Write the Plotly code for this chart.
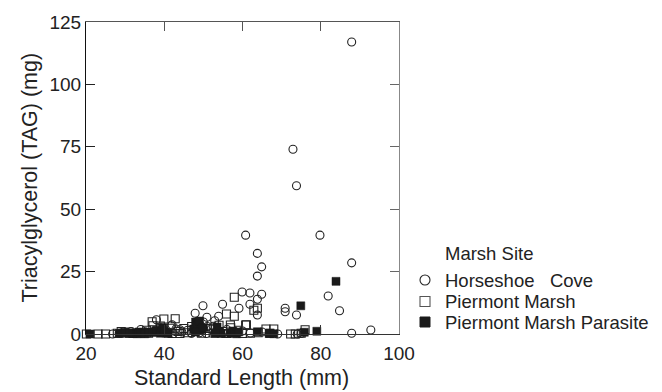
import plotly.graph_objects as go

# Horseshoe Cove (open circles)
hc_x = [87.9, 72.9, 73.8, 60.8, 79.8, 63.8, 64.9, 63.8, 87.9, 81.9, 84.8, 92.8, 87.9,
        59.9, 61.9, 64.9, 61.9, 63.8, 63.8, 59.1, 54.9, 49.9, 47.9, 53.9, 50.9, 52.9,
        70.9, 70.9, 73.8, 38.0, 42.0,
        26.8, 28.5, 29.5, 30.5, 31.5, 33.0, 34.0, 35.0, 36.0, 37.5, 39.0, 40.0, 41.0,
        43.0, 44.0, 44.5, 41.8, 46.0, 46.9, 47.0, 48.5, 49.0, 49.1, 50.0, 50.8, 51.0,
        52.0, 52.5, 53.0, 55.0, 56.0, 57.0, 58.5, 60.0, 62.0, 65.0, 69.0, 74.0, 75.0]
hc_y = [117.0, 74.0, 59.4, 39.6, 39.6, 32.3, 26.9, 23.2, 28.5, 15.2, 9.3, 1.6, 0.3,
        16.8, 16.4, 15.9, 11.9, 13.9, 7.6, 10.3, 11.9, 11.3, 8.3, 7.1, 6.7, 5.3,
        10.3, 8.9, 7.6, 5.7, 3.7,
        0.0, 0.3, 0.8, 0.5, 1.0, 0.6, 1.8, 0.9, 0.4, 1.2, 2.5, 1.5, 0.6,
        2.0, 1.7, 0.8, 3.3, 1.5, 0.4, 0.3, 2.8, 0.5, 3.7, 4.8, 0.2, 3.0,
        2.0, 3.1, 0.6, 0.2, 1.8, 0.5, 0.3, 1.2, 0.4, 0.8, 0.0, 0.0, 0.2]

# Piermont Marsh (open squares)
pm_x = [57.9, 63.8, 62.9, 55.9, 57.9, 42.8, 39.9, 36.9, 37.1, 60.8, 56.9, 61.0,
        20.1, 23.1, 25.0, 28.0, 29.0, 30.0, 31.0, 32.0, 34.0, 35.5, 36.0, 38.0, 39.0,
        40.5, 41.5, 42.0, 43.5, 44.0, 45.0, 46.0, 47.0, 48.5, 49.5, 51.0, 52.5, 54.0,
        55.0, 56.0, 57.0, 58.0, 59.0, 60.0, 62.0, 64.0, 66.0, 67.0, 68.0, 72.3, 73.5,
        76.0, 75.0]
pm_y = [14.7, 10.3, 9.5, 8.0, 7.1, 6.1, 6.0, 4.9, 3.3, 3.6, 3.6, 3.7,
        0.0, 0.0, 0.0, 0.3, 1.0, 0.4, 0.8, 0.2, 0.5, 1.5, 0.3, 1.0, 3.2,
        0.5, 2.3, 0.2, 1.0, 0.2, 2.2, 0.5, 3.0, 1.8, 0.3, 2.2, 0.4, 3.5,
        1.0, 0.2, 2.5, 0.6, 1.5, 0.2, 0.3, 0.5, 2.0, 0.3, 2.0, 0.0, 0.0,
        1.7, 0.3]

# Piermont Marsh Parasite (filled squares)
pp_x = [83.9, 74.9, 79.0, 75.8, 63.8, 66.8, 21.0, 28.5, 30.0, 31.0, 32.0, 33.0, 33.5,
        34.0, 34.5, 35.0, 36.0, 37.0, 38.0, 39.0, 39.5, 40.0, 41.0, 47.5, 48.0, 48.5,
        49.0, 49.5, 48.0, 50.0, 53.5, 54.0, 54.5, 57.0, 57.5, 58.0, 58.5, 59.0, 53.0,
        67.0, 68.0]
pp_y = [21.1, 11.3, 1.1, 0.7, 0.9, 0.2, 0.0, 0.2, 0.5, 0.2, 0.3, 0.1, 0.8,
        0.2, 0.5, 0.1, 0.8, 0.6, 1.5, 0.3, 2.5, 1.0, 0.2, 2.0, 4.8, 3.5,
        5.2, 1.8, 0.8, 2.5, 2.8, 1.0, 0.2, 0.3, 1.2, 0.5, 0.1, 0.8, 0.2,
        0.3, 0.1]

x_ticks = [20, 40, 60, 80, 100]
y_ticks = [0, 25, 50, 75, 100, 125]
series_names = ["Horseshoe   Cove", "Piermont Marsh", "Piermont Marsh Parasite"]
legend_title = "Marsh Site"

FONT = "Liberation Sans, Arial, Helvetica, sans-serif"
INK = "#222"

W, H = 662, 392
ML, MR, MT, MB = 86, 263, 22, 58
PW, PH = W - ML - MR, H - MT - MB


def px2paper(px, py):
    return (px - ML) / PW, 1 - (py - MT) / PH


fig = go.Figure()
fig.add_trace(go.Scatter(x=hc_x, y=hc_y, mode="markers", name=series_names[0],
                         marker=dict(symbol="circle-open", size=8, color=INK,
                                     line=dict(width=1.1, color=INK)),
                         cliponaxis=False, showlegend=False))
fig.add_trace(go.Scatter(x=pm_x, y=pm_y, mode="markers", name=series_names[1],
                         marker=dict(symbol="square-open", size=8, color=INK,
                                     line=dict(width=1.1, color=INK)),
                         cliponaxis=False, showlegend=False))
fig.add_trace(go.Scatter(x=pp_x, y=pp_y, mode="markers", name=series_names[2],
                         marker=dict(symbol="square", size=8, color="#1a1a1a",
                                     line=dict(width=0.5, color="#1a1a1a")),
                         cliponaxis=False, showlegend=False))
# helper trace to activate top/right axes
fig.add_trace(go.Scatter(x=[None], y=[None], xaxis="x2", yaxis="y2",
                         showlegend=False, hoverinfo="skip", mode="markers"))

axis_common = dict(showgrid=False, zeroline=False, showline=True, ticks="inside",
                   ticklen=9, tickwidth=1)

annotations = []
sx, sy = px2paper(241.7, 378)
annotations.append(dict(text="Standard Length (mm)", x=sx, y=sy, xref="paper", yref="paper",
                        showarrow=False, xanchor="center", yanchor="middle",
                        font=dict(size=21.5, color=INK)))
sx, sy = px2paper(29, 177.5)
annotations.append(dict(text="Triacylglycerol (TAG) (mg)", x=sx, y=sy, xref="paper",
                        yref="paper", showarrow=False, xanchor="center", yanchor="middle",
                        textangle=-90, font=dict(size=21.5, color=INK)))

# manual legend (title + three entries)
leg_text_x = 445
leg_sym_x = 425
leg_rows = [280, 301.5, 322]
sx, sy = px2paper(leg_text_x, 253)
annotations.append(dict(text=legend_title, x=sx, y=sy, xref="paper", yref="paper",
                        showarrow=False, xanchor="left", yanchor="middle",
                        xshift=-2, font=dict(size=18.5, color=INK)))
shapes = []
half = 5
for i, (name, ry) in enumerate(zip(series_names, leg_rows)):
    sx, sy = px2paper(leg_text_x, ry)
    annotations.append(dict(text=name, x=sx, y=sy, xref="paper", yref="paper",
                            showarrow=False, xanchor="left", yanchor="middle",
                            xshift=-2, font=dict(size=18.5, color=INK)))
    x0, y0 = px2paper(leg_sym_x - half, ry + half)
    x1, y1 = px2paper(leg_sym_x + half, ry - half)
    if i == 0:
        shapes.append(dict(type="circle", xref="paper", yref="paper", x0=x0, x1=x1,
                           y0=y0, y1=y1, line=dict(color=INK, width=1.1)))
    elif i == 1:
        shapes.append(dict(type="rect", xref="paper", yref="paper", x0=x0, x1=x1,
                           y0=y0, y1=y1, line=dict(color="#555", width=1.1)))
    else:
        shapes.append(dict(type="rect", xref="paper", yref="paper", x0=x0, x1=x1,
                           y0=y0, y1=y1, line=dict(color="#1a1a1a", width=1),
                           fillcolor="#1a1a1a"))

fig.update_layout(
    width=W, height=H,
    margin=dict(l=ML, r=MR, t=MT, b=MB),
    paper_bgcolor="white", plot_bgcolor="white",
    font=dict(family=FONT, color=INK, size=19),
    xaxis=dict(range=[20, 100], tickvals=x_ticks, linecolor="#333", tickcolor="#333",
               linewidth=1, tickfont=dict(size=19), ticklabelstandoff=2, **axis_common),
    yaxis=dict(range=[0, 125], tickvals=y_ticks, linecolor="#111", tickcolor="#222",
               linewidth=1, tickfont=dict(size=19), **axis_common),
    xaxis2=dict(range=[20, 100], tickvals=[40, 60, 80], overlaying="x", side="top",
                anchor="y", linecolor="#555", tickcolor="#555", showticklabels=False,
                **axis_common),
    yaxis2=dict(range=[0, 125], tickvals=[25, 50, 75, 100], overlaying="y", side="right",
                anchor="x", linecolor="#888", tickcolor="#666", showticklabels=False,
                **axis_common),
    showlegend=False,
    annotations=annotations,
    shapes=shapes,
)

fig.write_html("out.html")
